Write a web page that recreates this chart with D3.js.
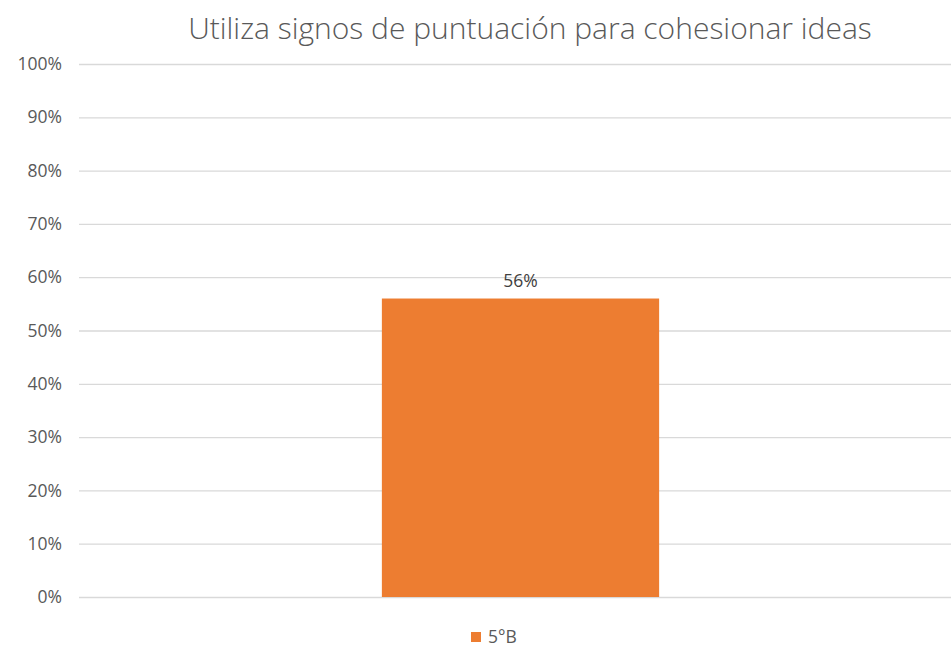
<!DOCTYPE html>
<html><head><meta charset="utf-8">
<script src="https://cdn.jsdelivr.net/npm/d3@7/dist/d3.min.js"></script>
<style>body{margin:0;background:#fff;} svg{display:block;}</style>
</head><body><svg id="c" width="951" height="649"></svg>
<script>
const categories = ["5°B"];
const values = [0.56];
const seriesName = "5°B";
const tickValues = [0,0.1,0.2,0.3,0.4,0.5,0.6,0.7,0.8,0.9,1.0];
const title = "Utiliza signos de puntuación para cohesionar ideas";

(function(){
const svg = d3.select("#c");
const font = "'Open Sans', 'Liberation Sans', sans-serif";
const mLeft = 79, mRight = 962, mTop = 64, mBottom = 597;
const y = d3.scaleLinear().domain([0,1]).range([mBottom, mTop]);
const x = d3.scaleBand().domain(categories).range([mLeft, mRight]).paddingInner(0.686).paddingOuter(0.343);

svg.append("text").attr("x", 530).attr("y", 39).attr("text-anchor","middle")
  .attr("font-family", font).attr("font-weight", 300).attr("font-size", 30).attr("fill","#595959").text(title);

const yAxis = d3.axisLeft(y).tickValues(tickValues).tickFormat(d3.format(".0%")).tickSize(-(951-mLeft)).tickPadding(18);
const g = svg.append("g").attr("transform", `translate(${mLeft},0)`).call(yAxis);
g.select(".domain").remove();
g.selectAll(".tick line").attr("stroke","#d9d9d9").attr("stroke-width",1.3);
g.selectAll(".tick text").attr("font-family", font).attr("font-size", 17.5).attr("fill","#595959").attr("x", -17);

svg.selectAll("rect.bar").data(values).join("rect").attr("class","bar")
  .attr("x", (d,i)=>x(categories[i])).attr("width", x.bandwidth())
  .attr("y", d=>y(d)).attr("height", d=>y(0)-y(d)).attr("fill","#ed7d31");

svg.selectAll("text.lbl").data(values).join("text").attr("class","lbl")
  .attr("x", (d,i)=>x(categories[i]) + x.bandwidth()/2).attr("y", d=>y(d)-12)
  .attr("text-anchor","middle").attr("font-family", font).attr("font-size", 17.5).attr("fill","#404040")
  .text(d=>d3.format(".0%")(d));

const lg = svg.append("g").attr("transform","translate(471,632)");
lg.append("rect").attr("width",10).attr("height",10).attr("fill","#ed7d31");
lg.append("text").attr("x",17).attr("y",11).attr("font-family",font).attr("font-size",17.5).attr("fill","#595959").text(seriesName);
})();
</script></body></html>
